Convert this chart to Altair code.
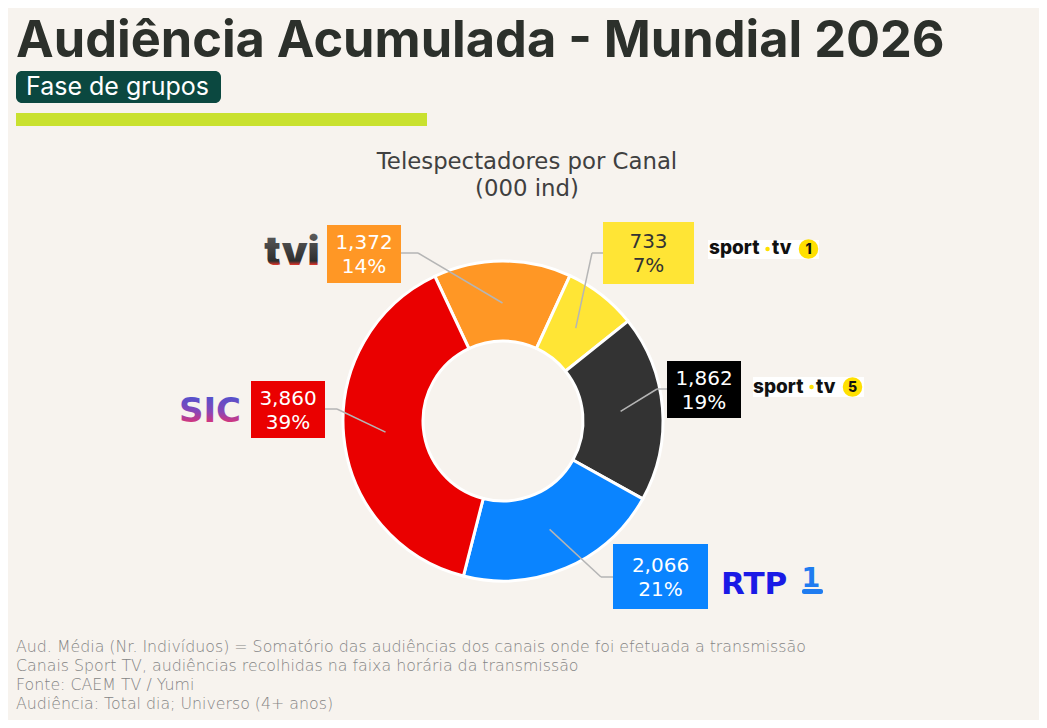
import math
import altair as alt
import pandas as pd

# ---------------- data ----------------
canais = ["TVI", "Sport TV 1", "Sport TV 5", "RTP1", "SIC"]
valores = [1372, 733, 1862, 2066, 3860]
rotulos_valor = ["1,372", "733", "1,862", "2,066", "3,860"]
rotulos_pct = ["14%", "7%", "19%", "21%", "39%"]

titulo = "Audiência Acumulada - Mundial 2026"
subtitulo = "Fase de grupos"
titulo_grafico = ["Telespectadores por Canal", "(000 ind)"]
notas = [
    "Aud. Média (Nr. Indivíduos) = Somatório das audiências dos canais onde foi efetuada a transmissão",
    "Canais Sport TV, audiências recolhidas na faixa horária da transmissão",
    "Fonte: CAEM TV / Yumi",
    "Audiência: Total dia; Universo (4+ anos)",
]

# ---------------- style / layout ----------------
cores_fatia = ["#ff9725", "#ffe535", "#333333", "#0a84ff", "#ea0000"]
cores_caixa = ["#ff9725", "#ffe535", "#000000", "#0a84ff", "#ea0000"]
cores_texto = ["#ffffff", "#333333", "#ffffff", "#ffffff", "#ffffff"]
caixas = [(327, 401, 225, 283), (603, 694, 222, 284), (667, 741, 361, 418),
          (613, 708, 544, 609), (251, 325, 381, 438)]
cotovelos = [(418, 253, 401), (592, 253, 603), (657, 389, 667),
             (601, 577, 613), (337, 409, 325)]

W, H = 1031, 712
CX, CY = 503, 421
R_IN, R_OUT, R_LINHA = 80, 160, 118
INICIO = -0.44
BG = "#f7f3ee"

XS = alt.Scale(domain=[8, 8 + W], nice=False, zero=False)
YS = alt.Scale(domain=[8, 8 + H], nice=False, zero=False, reverse=True)


def X(f="x"):
    return alt.X(f"{f}:Q", scale=XS, axis=None)


def Y(f="y"):
    return alt.Y(f"{f}:Q", scale=YS, axis=None)


def rects(rows, **kw):
    df = pd.DataFrame(rows, columns=["x", "x2", "y", "y2", "c"])
    return alt.Chart(df).mark_rect(**kw).encode(
        x=X(), x2="x2:Q", y=Y(), y2="y2:Q", color=alt.Color("c:N", scale=None)
    )


def texts(rows, color=None, **kw):
    if color is None:
        df = pd.DataFrame(rows, columns=["x", "y", "t", "c"])
        return alt.Chart(df).mark_text(**kw).encode(
            x=X(), y=Y(), text="t:N", color=alt.Color("c:N", scale=None)
        )
    df = pd.DataFrame(rows, columns=["x", "y", "t"])
    return alt.Chart(df).mark_text(color=color, **kw).encode(x=X(), y=Y(), text="t:N")


layers = []

# header
layers.append(texts([(16, 57, titulo, "#2c302b")], font="Inter", fontSize=50.5,
                    fontWeight=700, align="left", baseline="alphabetic"))
layers.append(rects([(16, 221, 71, 103, "#0b4840")], cornerRadius=6))
layers.append(texts([(26, 87, subtitulo, "#ffffff")], font="Inter", fontSize=25,
                    fontWeight=400, align="left", baseline="middle"))
layers.append(rects([(16, 427, 113, 126, "#c9e12f")]))
layers.append(texts([(527, 162, titulo_grafico[0], "#404040"),
                     (527, 189, titulo_grafico[1], "#404040")],
                    font="DejaVu Sans", fontSize=22.8, align="center", baseline="middle"))

# donut
df_arc = pd.DataFrame({"canal": canais, "v": valores, "cor": cores_fatia,
                       "ord": list(range(len(canais)))})
layers.append(
    alt.Chart(df_arc).mark_arc(innerRadius=R_IN, outerRadius=R_OUT, stroke="white",
                               strokeWidth=3).encode(
        theta=alt.Theta("v:Q", stack=True,
                        scale=alt.Scale(range=[INICIO, INICIO + 2 * math.pi])),
        color=alt.Color("cor:N", scale=None),
        order=alt.Order("ord:Q"),
        x=alt.value(CX - 8), y=alt.value(CY - 8),
    )
)

# leader lines (inner end at each slice's mid angle)
total = sum(valores)
seg = []
acum = 0
for v, (ex, ey, bx) in zip(valores, cotovelos):
    mid = INICIO + 2 * math.pi * (acum + v / 2) / total
    acum += v
    px, py = CX + R_LINHA * math.sin(mid), CY - R_LINHA * math.cos(mid)
    seg.append((px, py, ex, ey))
    seg.append((ex, ey, bx, ey))
df_seg = pd.DataFrame(seg, columns=["x", "y", "x2", "y2"])
layers.append(alt.Chart(df_seg).mark_rule(color="#b5b5b5", strokeWidth=1.5).encode(
    x=X(), y=Y(), x2="x2:Q", y2="y2:Q"))

# label boxes
layers.append(rects([(x0, x1, y0, y1, c) for (x0, x1, y0, y1), c in zip(caixas, cores_caixa)]))
rot = []
for (x0, x1, y0, y1), tv, tp, c in zip(caixas, rotulos_valor, rotulos_pct, cores_texto):
    xc, yc = (x0 + x1) / 2, (y0 + y1) / 2
    rot.append((xc, yc - 11, tv, c))
    rot.append((xc, yc + 13, tp, c))
layers.append(texts(rot, font="DejaVu Sans", fontSize=20, align="center", baseline="middle"))

# ---- logos (as text) ----
# TVI
layers.append(texts([(292, 265, "tvi")], font="Inter", fontSize=41, fontWeight=900,
                    align="center", baseline="alphabetic",
                    color=alt.LinearGradient(gradient="linear", x1=0, x2=0, y1=0, y2=1, stops=[
                        alt.GradientStop(color="#6a6a6a", offset=0),
                        alt.GradientStop(color="#2e2e2e", offset=0.72),
                        alt.GradientStop(color="#e5352a", offset=0.8),
                        alt.GradientStop(color="#f7a21b", offset=1)])))
# SIC
layers.append(texts([(210, 422, "SIC")], font="DejaVu Sans", fontSize=34, fontWeight=900,
                    align="center", baseline="alphabetic",
                    color=alt.LinearGradient(gradient="linear", x1=0, x2=0, y1=0, y2=1, stops=[
                        alt.GradientStop(color="#3d56d6", offset=0),
                        alt.GradientStop(color="#8a46b6", offset=0.55),
                        alt.GradientStop(color="#d2367e", offset=0.8),
                        alt.GradientStop(color="#f39a2a", offset=1)])))
# Sport TV logos
layers.append(rects([(708, 819, 240, 259, "#ffffff"), (753, 864, 377, 397, "#ffffff")]))
layers.append(texts([(709, 254, "sport", "#111111"), (772, 254, "tv", "#111111"),
                     (753, 393, "sport", "#111111"), (816, 393, "tv", "#111111")],
                    font="Inter", fontSize=19, fontWeight=800, align="left",
                    baseline="alphabetic"))
df_dots = pd.DataFrame([(767.5, 249, 20), (808.5, 249, 380), (811.5, 387, 20), (852.5, 387, 380)],
                       columns=["x", "y", "s"])
layers.append(alt.Chart(df_dots).mark_point(filled=True, shape="circle", opacity=1,
                                            color="#ffe000").encode(
    x=X(), y=Y(), size=alt.Size("s:Q", scale=None)))
layers.append(texts([(808.5, 250, "1", "#111111"), (852.5, 388, "5", "#111111")],
                    font="Inter", fontSize=14, fontWeight=800, align="center",
                    baseline="middle"))
# RTP 1
layers.append(texts([(721, 594, "RTP", "#1a1ae6")], font="DejaVu Sans", fontSize=31,
                    fontWeight=900, align="left", baseline="alphabetic"))
layers.append(texts([(811, 587, "1", "#1f7cf0")], font="DejaVu Sans", fontSize=27,
                    fontWeight=900, align="center", baseline="alphabetic"))
layers.append(rects([(802, 823, 589, 594, "#1f7cf0")], cornerRadius=2))

# footer notes
layers.append(texts([(16, 647 + 19 * i, n, "#858585") for i, n in enumerate(notas)],
                    font="DejaVu Sans", fontSize=15.8, fontWeight=300, align="left",
                    baseline="middle"))

chart = alt.layer(*layers).properties(
    width=W, height=H, background=BG, padding=0, autosize="none"
).configure_view(stroke=None)

chart.save("out.html", embed_options={"renderer": "svg", "actions": False})
